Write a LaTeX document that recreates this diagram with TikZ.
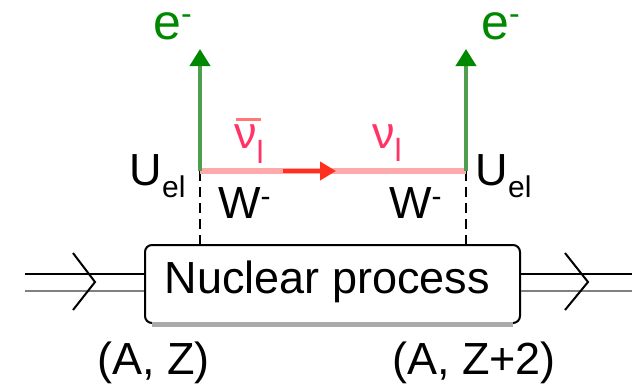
\documentclass[tikz,border=0pt]{standalone}
\usepackage{fontspec}
\setmainfont{Liberation Sans}
\usetikzlibrary{arrows.meta}
\definecolor{eg}{HTML}{008800}
\definecolor{lg}{HTML}{4E9E4E}
\definecolor{pinkline}{HTML}{FFAAAA}
\definecolor{redarr}{HTML}{FF3020}
\definecolor{nucol}{HTML}{FF3366}
\definecolor{nubar}{HTML}{FF7777}
\definecolor{shadowgray}{HTML}{AAAAAA}
\definecolor{lowline}{HTML}{808080}
\begin{document}
\begin{tikzpicture}[x=1pt,y=-1pt,
  lbl/.style={inner sep=0pt, anchor=base west, font=\fontsize{45}{45}\selectfont},
  elbl/.style={lbl, text=eg, font=\fontsize{50}{50}\selectfont},
  nulbl/.style={lbl, text=nucol},
  photon/.style={lg, line width=4pt, -{Triangle[length=17pt,width=20pt,color=eg]}},
  dashline/.style={line width=2pt, dash pattern=on 10pt off 6pt},
  chev/.style={line width=2pt, line join=miter},
  upline/.style={line width=2pt},
  loline/.style={lowline, line width=2.5pt}]
\useasboundingbox (0,0) rectangle (632,384);

% vertices and free ends
\coordinate (v1) at (200,171);
\coordinate (v2) at (466,171);
\coordinate (t1) at (200,49);
\coordinate (t2) at (466,49);
\coordinate (ra) at (283,171);
\coordinate (rb) at (336,171);
\coordinate (inL) at (25,282.5);
\coordinate (outR) at (632,282.5);

% box
\node[draw, line width=2pt, rounded corners=7pt, minimum width=375pt,
      minimum height=78pt, inner sep=0pt] (box) at (332.5,284) {};
\draw[shadowgray, line width=5pt] ([xshift=8pt,yshift=-0.5pt]box.south west) -- ([xshift=-8pt,yshift=-0.5pt]box.south east);
\node[lbl] (proc) at (164.5,293) {Nuclear process};

% double lines in and out
\draw[upline] ([yshift=8.5pt]inL) -- ([yshift=8.5pt]inL -| box.west);
\draw[loline] ([yshift=-8.5pt]inL) -- ([yshift=-8.5pt]inL -| box.west);
\draw[upline] ([yshift=8.5pt]outR -| box.east) -- ([yshift=8.5pt]outR);
\draw[loline] ([yshift=-8.5pt]outR -| box.east) -- ([yshift=-8.5pt]outR);
\draw[chev] (73,253) -- (95,282) -- (73,310);
\draw[chev] (565,253) -- (588,282) -- (565,310);

% dashed W lines
\draw[dashline] (v1) -- (v1 |- box.north);
\draw[dashline] (v2) -- (v2 |- box.north);

% neutrino line
\draw[pinkline, line width=6pt] (v1) -- (v2);
\draw[redarr, line width=4pt, -{Triangle[length=16pt,width=18pt]}] (ra) -- (rb);

% electrons
\draw[photon] (v1) -- (t1);
\draw[photon] (v2) -- (t2);

% labels
\node[elbl] (e1) at (153,39.5) {e\raisebox{15pt}{\fontsize{32}{32}\selectfont -}};
\node[elbl] (e2) at (481,39.5) {e\raisebox{15pt}{\fontsize{32}{32}\selectfont -}};
\node[lbl] (u1) at (129.5,185) {U\raisebox{-12pt}{\fontsize{30}{30}\selectfont el}};
\node[lbl] (u2) at (475.5,185) {U\raisebox{-12pt}{\fontsize{30}{30}\selectfont el}};
\node[lbl] (w1) at (218,218) {W\raisebox{12pt}{\fontsize{30}{30}\selectfont -}};
\node[lbl] (w2) at (389,218) {W\raisebox{12pt}{\fontsize{30}{30}\selectfont -}};
\node[nulbl] (nu1) at (234,148) {\rlap{\hspace{2pt}\textcolor{nubar}{\rule[27pt]{25pt}{3pt}}}ν\raisebox{-15pt}{\fontsize{32}{32}\selectfont l}};
\node[nulbl] (nu2) at (372,148) {ν\raisebox{-13pt}{\fontsize{32}{32}\selectfont l}};
\node[lbl] (az1) at (97,374) {(A, Z)};
\node[lbl] (az2) at (392,374) {(A, Z+2)};
\end{tikzpicture}
\end{document}
